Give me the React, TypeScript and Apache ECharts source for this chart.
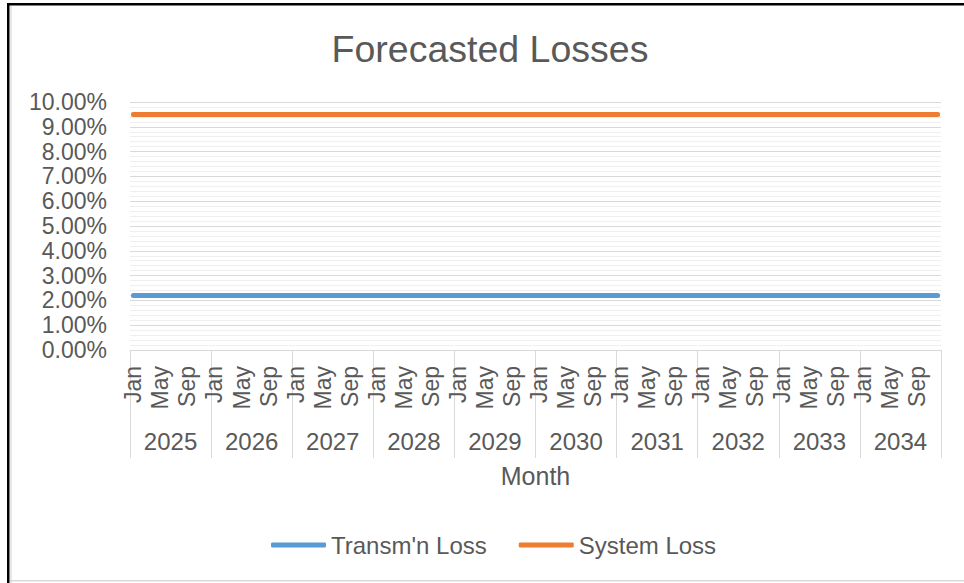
import React, { useEffect, useRef } from "react";
import * as echarts from "echarts";

const years = ["2025", "2026", "2027", "2028", "2029", "2030", "2031", "2032", "2033", "2034"];
const monthNames = ["Jan", "Feb", "Mar", "Apr", "May", "Jun", "Jul", "Aug", "Sep", "Oct", "Nov", "Dec"];
// values in percent, read per year (flat across every month)
const transmLossByYear = [2.2, 2.2, 2.2, 2.2, 2.2, 2.2, 2.2, 2.2, 2.2, 2.2];
const systemLossByYear = [9.5, 9.5, 9.5, 9.5, 9.5, 9.5, 9.5, 9.5, 9.5, 9.5];
const yTicks = { min: 0, max: 10, interval: 1 };

const monthCategories: string[] = [];
const transmLoss: number[] = [];
const systemLoss: number[] = [];
years.forEach((y, yi) => {
  monthNames.forEach((m) => {
    monthCategories.push(y + "-" + m);
    transmLoss.push(transmLossByYear[yi]);
    systemLoss.push(systemLossByYear[yi]);
  });
});

const FONT = "'Liberation Sans', Arial, sans-serif";
const TXT = "#595959";
const BLUE = "#5b9bd5";
const ORANGE = "#ed7d31";

export default function App() {
  const ref = useRef<HTMLDivElement>(null);
  useEffect(() => {
    document.body.style.margin = "0";
    const chart = echarts.init(ref.current!, null, { renderer: "svg" });
    chart.setOption({
      animation: false,
      backgroundColor: "#ffffff",
      textStyle: { fontFamily: FONT },
      title: {
        text: "Forecasted Losses",
        left: 485,
        top: 25,
        textAlign: "center",
        textStyle: { fontFamily: FONT, fontSize: 37.5, fontWeight: "normal", color: TXT },
      },
      legend: {
        top: 528,
        left: 266,
        itemWidth: 55,
        itemHeight: 5,
        itemGap: 32,
        icon: "roundRect",
        textStyle: { fontFamily: FONT, fontSize: 24, color: TXT },
        data: [
          { name: "Transm'n Loss", icon: "roundRect", itemStyle: { color: BLUE } },
          { name: "System Loss", icon: "roundRect", itemStyle: { color: ORANGE } },
        ],
      },
      grid: { left: 130, right: 23, top: 102, bottom: 233, containLabel: false },
      xAxis: [
        {
          type: "category",
          data: monthCategories,
          boundaryGap: true,
          axisLine: { show: true, lineStyle: { color: "#d9d9d9", width: 1 } },
          axisTick: { show: false },
          axisLabel: {
            interval: 3,
            rotate: 90,
            margin: 16,
            fontFamily: FONT,
            fontSize: 23,
            color: TXT,
            formatter: (v: string) => v.split("-")[1],
          },
        },
        {
          type: "category",
          data: years,
          position: "bottom",
          boundaryGap: true,
          axisLine: { show: false },
          axisTick: { show: true, length: 108, interval: 0, lineStyle: { color: "#d9d9d9", width: 1 } },
          axisLabel: { interval: 0, margin: 79, fontFamily: FONT, fontSize: 24, color: TXT },
          name: "Month",
          nameLocation: "middle",
          nameGap: 113,
          nameTextStyle: { fontFamily: FONT, fontSize: 25, color: TXT },
        },
      ],
      yAxis: {
        type: "value",
        min: yTicks.min,
        max: yTicks.max,
        interval: yTicks.interval,
        axisLine: { show: false },
        axisTick: { show: false },
        axisLabel: {
          margin: 23,
          fontFamily: FONT,
          fontSize: 23,
          color: TXT,
          formatter: (v: number) => v.toFixed(2) + "%",
        },
        splitLine: { show: true, lineStyle: { color: "#d9d9d9", width: 1 } },
        minorTick: { show: false, splitNumber: 5 },
        minorSplitLine: { show: true, lineStyle: { color: "#efefef", width: 1 } },
      },
      series: [
        {
          name: "Transm'n Loss",
          type: "line",
          data: transmLoss,
          symbol: "none",
          lineStyle: { color: BLUE, width: 5, cap: "round" },
          itemStyle: { color: BLUE },
        },
        {
          name: "System Loss",
          type: "line",
          data: systemLoss,
          symbol: "none",
          lineStyle: { color: ORANGE, width: 5, cap: "round" },
          itemStyle: { color: ORANGE },
        },
      ],
      graphic: [
        { type: "rect", shape: { x: 7, y: 3, width: 2.5, height: 580 }, style: { fill: "#000000" }, silent: true },
        { type: "rect", shape: { x: 7, y: 3, width: 957, height: 2.5 }, style: { fill: "#000000" }, silent: true },
        { type: "rect", shape: { x: 10.5, y: 6, width: 1, height: 577 }, style: { fill: "#d0d0d0" }, silent: true },
        { type: "rect", shape: { x: 10, y: 580, width: 954, height: 1.5 }, style: { fill: "#d9d9d9" }, silent: true },
      ],
    });
    return () => chart.dispose();
  }, []);
  return <div ref={ref} style={{ position: "absolute", left: 0, top: 0, width: 964, height: 583 }} />;
}
